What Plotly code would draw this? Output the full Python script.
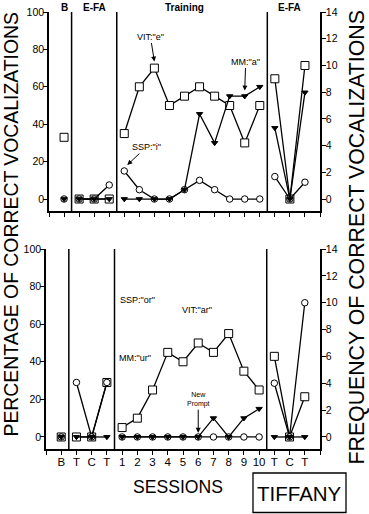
import plotly.graph_objects as go

# ---------------- data ----------------
x_labels = ["B", "T", "C", "T", "1", "2", "3", "4", "5", "6", "7", "8", "9", "10", "T", "C", "T"]
phase_bounds = [(0, 1), (1, 4), (4, 14), (14, 17)]
phase_names_top = ["B", "E-FA", "Training", "E-FA"]
phase_label_x = [1, 3, 9, 16]
dividers = [1.5, 4.5, 14.5]

# top panel (percentage scale)
top_vit = [33, 0, 0, 0, 35, 60, 70, 50, 55, 60, 55, 50, 30, 50, 64.3, 0, 71.4]
top_ssp = [0, 0, 0, 7.5, 15, 5, 0, 0, 5, 10, 5, 0, 0, 0, 12, 0, 9]
top_mm = [0, 0, 0, 0, 0, 0, 0, 0, 5, 45.5, 30, 55, 55, 60, 38, 0, 57]

# bottom panel (percentage scale)
bot_vit = [0, 0, 0, 29, 5, 10, 25, 45, 40, 50, 45, 55, 35, 25, 42.9, 0, 21.4]
bot_ssp = [0, 29, 0, 29, 0, 0, 0, 0, 0, 0, 0, 0, 0, 0, 28.6, 0, 71.4]
bot_mm = [0, 0, 0, 0, 0, 0, 0, 0, 0, 0, 10, 0, 10, 15, 0, 0, 0]

left_ticks = [0, 20, 40, 60, 80, 100]
right_ticks = [0, 2, 4, 6, 8, 10, 12, 14]

# ---------------- helpers ----------------
W, H = 369, 514
FONT = "Liberation Sans, Arial, sans-serif"
xpos = list(range(1, len(x_labels) + 1))
YMIN, YMAX = -6.4, 100
RMIN, RMAX = YMIN * 0.14, 14


def px(x):
    return x / W


def py(y):
    return 1 - y / H


def segmented(vals):
    xs, ys = [], []
    for a, b in phase_bounds:
        xs += xpos[a:b] + [None]
        ys += vals[a:b] + [None]
    return xs, ys


fig = go.Figure()

series_style = [
    ("square", 8, "white"),
    ("circle", 6.5, "white"),
    ("triangle-down", 5.5, "black"),
]


def add_panel(vals_list, xa, ya, ya_right):
    for vals, (sym, size, fill) in zip(vals_list, series_style):
        xs, ys = segmented(vals)
        fig.add_trace(go.Scatter(
            x=xs, y=ys, xaxis=xa, yaxis=ya, mode="lines+markers",
            line=dict(color="black", width=1.3),
            marker=dict(symbol=sym, size=size, color=fill,
                        line=dict(color="black", width=1)),
            showlegend=False, hoverinfo="skip", cliponaxis=False,
        ))
    # invisible placeholder so the right axis is drawn
    fig.add_trace(go.Scatter(x=[xpos[0]], y=[0], xaxis=xa, yaxis=ya_right,
                             mode="markers", marker=dict(opacity=0),
                             showlegend=False, hoverinfo="skip"))


add_panel([top_vit, top_ssp, top_mm], "x", "y", "y2")
add_panel([bot_vit, bot_ssp, bot_mm], "x2", "y3", "y4")

tickfont = dict(family=FONT, size=10.5, color="black")
axis_common = dict(showline=True, linecolor="black", linewidth=1.5, ticks="outside",
                   ticklen=4, tickwidth=1.3, tickcolor="black", showgrid=False,
                   zeroline=False, tickfont=tickfont, fixedrange=True, automargin=False)

all_ticks = list(range(0, len(x_labels) + 2))

fig.update_layout(
    width=W, height=H, margin=dict(l=0, r=0, t=0, b=0, autoexpand=False),
    paper_bgcolor="white", plot_bgcolor="white",
    xaxis=dict(domain=[px(49), px(320)], range=[0, 18], anchor="y",
               tickvals=all_ticks, showticklabels=False, **axis_common),
    yaxis=dict(domain=[py(211), py(12)], range=[YMIN, YMAX], anchor="x",
               tickvals=left_ticks, ticklabelstandoff=-3, **axis_common),
    yaxis2=dict(domain=[py(211), py(12)], range=[RMIN, RMAX], anchor="x",
                overlaying="y", side="right", tickvals=right_ticks,
                ticklabelstandoff=-2, **axis_common),
    xaxis2=dict(domain=[px(46), px(320)], range=[0, 18], anchor="y3",
                tickvals=all_ticks, ticktext=[""] + x_labels + [""],
                ticklabelstandoff=-3, **axis_common),
    yaxis3=dict(domain=[py(449), py(249)], range=[YMIN, YMAX], anchor="x2",
                tickvals=left_ticks, ticklabelstandoff=-3, **axis_common),
    yaxis4=dict(domain=[py(449), py(249)], range=[RMIN, RMAX], anchor="x2",
                overlaying="y3", side="right", tickvals=right_ticks,
                ticklabelstandoff=-2, **axis_common),
)
fig.update_xaxes(tickfont=dict(family=FONT, size=11.5, color="black"))

shapes = []
for d in dividers:
    shapes.append(dict(type="line", xref="x", yref="y", x0=d, x1=d, y0=YMIN, y1=YMAX,
                       line=dict(color="black", width=1.5)))
    shapes.append(dict(type="line", xref="x2", yref="y3", x0=d, x1=d, y0=YMIN, y1=YMAX,
                       line=dict(color="black", width=1.5)))
shapes.append(dict(type="rect", xref="paper", yref="paper", x0=px(253), x1=px(346),
                   y0=py(512.5), y1=py(473), line=dict(color="black", width=1.3)))
fig.update_layout(shapes=shapes)

ann = []
for name, xl in zip(phase_names_top, phase_label_x):
    ann.append(dict(x=xl, y=py(8), xref="x", yref="paper", text="<b>%s</b>" % name,
                    xanchor="center", yanchor="middle",
                    showarrow=False, font=dict(family=FONT, size=10, color="black")))

small = dict(family=FONT, size=9, color="black")
arrow = dict(showarrow=True, arrowhead=2, arrowsize=1, arrowwidth=1, arrowcolor="black")
# top panel labels
ann.append(dict(x=7, y=73.5, xref="x", yref="y", text='VIT:"e"', ax=-4, ay=-25,
                font=small, **arrow))
ann.append(dict(x=5.2, y=18.2, xref="x", yref="y", text='SSP:"i"', ax=19, ay=-18,
                font=small, **arrow))
ann.append(dict(x=13, y=58, xref="x", yref="y", text='MM:"a"', ax=1, ay=-29,
                font=small, **arrow))
# bottom panel labels
ann.append(dict(x=6.0, y=72.9, xref="x2", yref="y3", text='SSP:"or"', showarrow=False,
                xanchor="center", yanchor="middle", font=small))
ann.append(dict(x=9.9, y=67.6, xref="x2", yref="y3", text='VIT:"ar"', showarrow=False,
                xanchor="center", yanchor="middle", font=small))
ann.append(dict(x=5.85, y=42.0, xref="x2", yref="y3", text='MM:"ur"', showarrow=False,
                xanchor="center", yanchor="middle", font=small))
ann.append(dict(x=10, y=2.3, xref="x2", yref="y3", text="New<br>Prompt", ax=0, ay=-33,
                font=dict(family=FONT, size=7, color="black"), **arrow))

# axis titles
paper_txt = dict(xref="paper", yref="paper", showarrow=False, xanchor="center",
                 yanchor="middle", borderpad=0)
ann.append(dict(x=px(10.5), y=py(224), textangle=-90,
                text="PERCENTAGE OF CORRECT VOCALIZATIONS",
                font=dict(family=FONT, size=19.4, color="black"), **paper_txt))
ann.append(dict(x=px(356.5), y=py(238), textangle=-90,
                text="FREQUENCY OF CORRECT VOCALIZATIONS",
                font=dict(family=FONT, size=21.3, color="black"), **paper_txt))
ann.append(dict(x=px(178), y=py(487), text="SESSIONS",
                font=dict(family=FONT, size=17.6, color="black"), **paper_txt))
ann.append(dict(x=px(299.5), y=py(493), text="TIFFANY",
                font=dict(family=FONT, size=20.5, color="black"), **paper_txt))
fig.update_layout(annotations=ann)

fig.write_html("out.html", config={"displayModeBar": False},
               post_script="document.body.style.margin='0';")
